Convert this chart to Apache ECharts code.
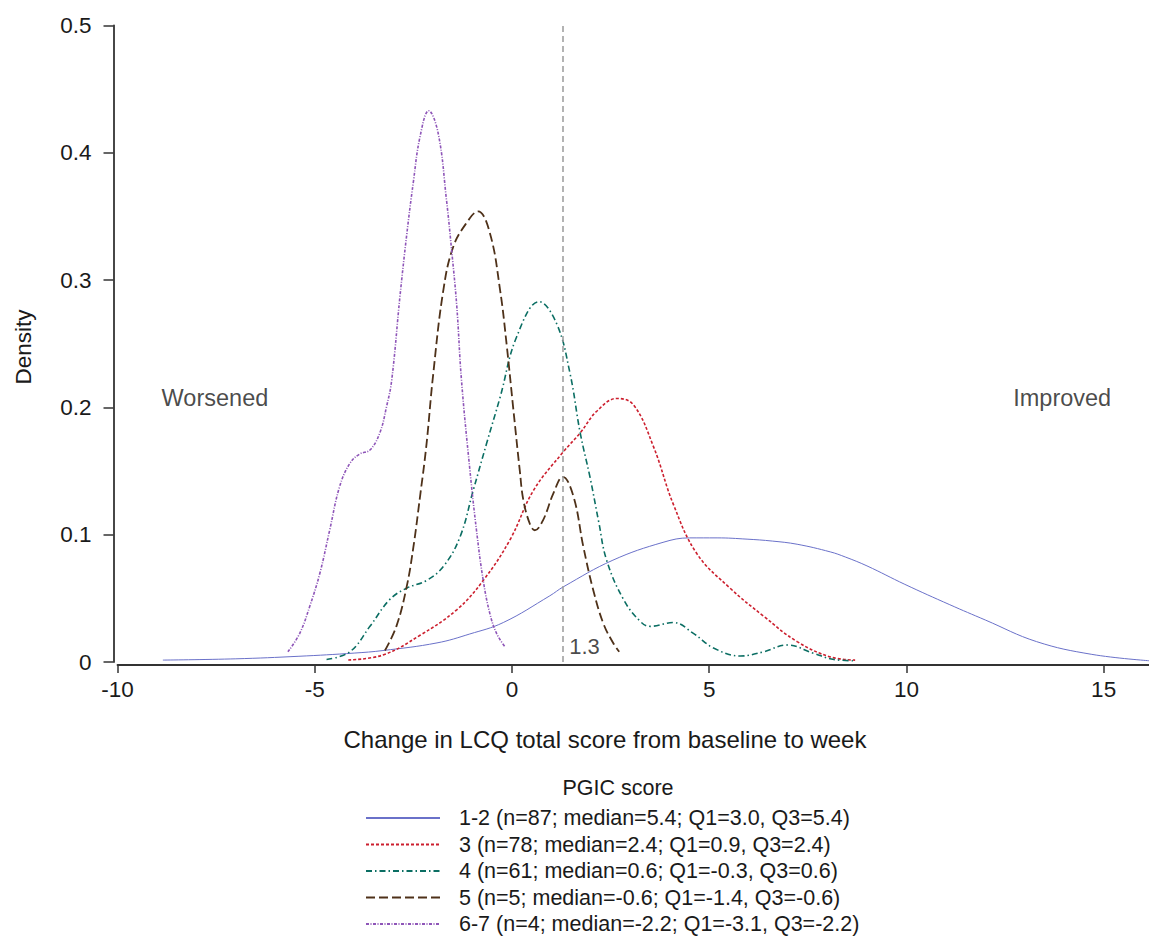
<!DOCTYPE html>
<html>
<head>
<meta charset="utf-8">
<title>Change in LCQ total score by PGIC score</title>
<script src="https://cdn.jsdelivr.net/npm/echarts@6/dist/echarts.min.js"></script>
<style>
  html, body { margin: 0; padding: 0; background: #fff; }
  #main { width: 1149px; height: 943px; }
</style>
</head>
<body>
<div id="main"></div>
<script>
// legend labels, one per PGIC group
var legendNames = [
  '1-2 (n=87; median=5.4; Q1=3.0, Q3=5.4)',
  '3 (n=78; median=2.4; Q1=0.9, Q3=2.4)',
  '4 (n=61; median=0.6; Q1=-0.3, Q3=0.6)',
  '5 (n=5; median=-0.6; Q1=-1.4, Q3=-0.6)',
  '6-7 (n=4; median=-2.2; Q1=-3.1, Q3=-2.2)'
];

// density curves (x = change in LCQ, y = density)
var x12 = [-8.85, -7.0, -5.4, -4.0, -3.27, -1.9, -1.07, -0.22, 0.96, 1.3, 2.56, 3.83, 4.5, 5.2, 5.96, 6.6, 7.23, 8.07, 8.45, 9.0, 9.96, 11.1, 12.0, 13.3, 14.7, 16.15];
var y12 = [0.0015, 0.0025, 0.0045, 0.007, 0.009, 0.015, 0.022, 0.031, 0.052, 0.059, 0.080, 0.094, 0.0975, 0.0975, 0.0965, 0.095, 0.0925, 0.0865, 0.0825, 0.0755, 0.061, 0.045, 0.033, 0.016, 0.006, 0.001];

var x3 = [-4.15, -3.27, -2.33, -1.4, -0.73, -0.05, 0.55, 1.3, 1.73, 2.15, 2.66, 3.08, 3.59, 4.09, 4.69, 5.53, 6.38, 7.23, 8.07, 8.7];
var y3 = [0.0016, 0.0055, 0.021, 0.041, 0.064, 0.096, 0.135, 0.165, 0.180, 0.197, 0.207, 0.202, 0.169, 0.124, 0.085, 0.058, 0.036, 0.016, 0.004, 0.0015];

var x4 = [-4.70, -4.11, -3.6, -3.1, -2.67, -2.17, -1.74, -1.32, -0.98, -0.64, -0.3, 0.12, 0.69, 1.13, 1.47, 1.73, 1.98, 2.2, 2.4, 2.83, 3.25, 3.5, 4.09, 4.6, 5.11, 5.79, 6.38, 6.97, 7.65, 8.16, 8.7];
var y4 = [0.002, 0.008, 0.028, 0.049, 0.058, 0.064, 0.075, 0.098, 0.135, 0.172, 0.208, 0.2555, 0.283, 0.266, 0.227, 0.18, 0.145, 0.11, 0.08, 0.049, 0.032, 0.028, 0.031, 0.0225, 0.011, 0.0047, 0.008, 0.0134, 0.0068, 0.002, 0.001];

var x5 = [-3.22, -2.93, -2.67, -2.5, -2.33, -2.17, -2.0, -1.74, -1.49, -1.15, -0.86, -0.56, -0.3, -0.13, 0.03, 0.2, 0.29, 0.46, 0.58, 0.79, 1.05, 1.29, 1.56, 1.81, 2.06, 2.32, 2.57, 2.72];
var y5 = [0.009, 0.028, 0.059, 0.09, 0.13, 0.17, 0.225, 0.292, 0.326, 0.345, 0.354, 0.337, 0.292, 0.248, 0.2, 0.15, 0.127, 0.108, 0.1035, 0.1115, 0.1325, 0.1455, 0.13, 0.0905, 0.0566, 0.030, 0.0147, 0.008];

var x67 = [-5.68, -5.38, -5.13, -4.87, -4.62, -4.37, -4.11, -3.86, -3.6, -3.35, -3.18, -3.05, -2.84, -2.67, -2.5, -2.33, -2.11, -1.87, -1.66, -1.53, -1.40, -1.28, -1.07, -0.9, -0.73, -0.56, -0.39, -0.18];
var y67 = [0.008, 0.0225, 0.0434, 0.0697, 0.1037, 0.1377, 0.156, 0.1634, 0.1665, 0.180, 0.2005, 0.221, 0.287, 0.335, 0.377, 0.4127, 0.433, 0.4153, 0.363, 0.3236, 0.28, 0.2215, 0.152, 0.1037, 0.0644, 0.038, 0.0225, 0.012];

// MCID reference line and the side notes
var refLine = 1.3;
var refLabelY = 0.0118;
var sideNotes = ['Worsened', 'Improved'];
var sideNoteX = [-7.53, 13.95];
var sideNoteY = 0.207;

var font = '"Liberation Sans", Arial, Helvetica, sans-serif';
var ink = '#1a1a1a';

function pairs(xs, ys) {
  return xs.map(function (x, i) { return [x, ys[i]]; });
}

function curve(name, xs, ys, color, width, dash) {
  return {
    name: name,
    type: 'line',
    data: pairs(xs, ys),
    smooth: 0.4,
    symbol: 'none',
    itemStyle: { color: color },
    lineStyle: { color: color, width: width, type: dash }
  };
}

var myChart = echarts.init(document.getElementById('main'), null, { renderer: 'svg' });

myChart.setOption({
  animation: false,
  backgroundColor: '#fff',
  textStyle: { fontFamily: font },
  grid: { left: 117.5, right: 0, top: 25.5, bottom: 281 },
  xAxis: {
    type: 'value',
    min: -10,
    max: 16.15,
    interval: 5,
    offset: 3,
    axisLine: { onZero: false, lineStyle: { color: '#333', width: 1.8 } },
    axisTick: { length: 8, lineStyle: { color: '#333', width: 1.5 } },
    axisLabel: { fontSize: 22.5, color: ink, margin: 13, showMaxLabel: false, fontFamily: font },
    splitLine: { show: false }
  },
  yAxis: {
    type: 'value',
    min: 0,
    max: 0.5,
    interval: 0.1,
    offset: 4,
    axisLine: { show: true, onZero: false, lineStyle: { color: '#333', width: 1.8 } },
    axisTick: { show: true, length: 10, lineStyle: { color: '#333', width: 1.5 } },
    axisLabel: { fontSize: 22.5, color: ink, margin: 22, fontFamily: font },
    splitLine: { show: false }
  },
  legend: {
    data: legendNames,
    orient: 'vertical',
    left: 365,
    top: 807,
    padding: 0,
    itemWidth: 74,
    itemHeight: 14,
    itemGap: 4.5,
    selectedMode: false,
    itemStyle: { opacity: 0 },
    textStyle: { fontSize: 21.5, color: ink, fontFamily: font, lineHeight: 22, padding: [0, 0, 0, 14] }
  },
  graphic: [
    {
      type: 'text', x: 605, y: 739,
      style: { text: 'Change in LCQ total score from baseline to week', fontSize: 24, fontFamily: font, fill: ink, textAlign: 'center', textVerticalAlign: 'middle' }
    },
    {
      type: 'text', x: 23, y: 347, rotation: Math.PI / 2,
      style: { text: 'Density', fontSize: 22.5, fontFamily: font, fill: ink, textAlign: 'center', textVerticalAlign: 'middle' }
    },
    {
      type: 'text', x: 618, y: 788,
      style: { text: 'PGIC score', fontSize: 21.5, fontFamily: font, fill: ink, textAlign: 'center', textVerticalAlign: 'middle' }
    }
  ],
  series: [
    curve(legendNames[0], x12, y12, '#6a71c9', 1, 'solid'),
    curve(legendNames[1], x3, y3, '#cc1f2e', 1.6, [3, 2]),
    curve(legendNames[2], x4, y4, '#0b6e63', 1.6, [6, 3, 1.5, 3]),
    curve(legendNames[3], x5, y5, '#4e3119', 1.8, [9, 4]),
    curve(legendNames[4], x67, y67, '#8e55b8', 1.6, [3, 1.5, 1, 1.5]),
    {
      // text notes + reference line
      type: 'scatter',
      silent: true,
      symbolSize: 0,
      data: [
        { value: [sideNoteX[0], sideNoteY], label: { formatter: sideNotes[0], position: 'inside' } },
        { value: [sideNoteX[1], sideNoteY], label: { formatter: sideNotes[1], position: 'inside' } },
        { value: [refLine, refLabelY], label: { formatter: String(refLine), position: 'right', distance: 6, fontSize: 22 } }
      ],
      label: { show: true, fontSize: 23.5, color: ink, fontFamily: font },
      markLine: {
        silent: true,
        symbol: ['none', 'none'],
        label: { show: false },
        lineStyle: { color: '#9a9a9a', type: [6, 4], width: 1.5 },
        data: [{ xAxis: refLine }]
      }
    }
  ]
});
</script>
</body>
</html>
